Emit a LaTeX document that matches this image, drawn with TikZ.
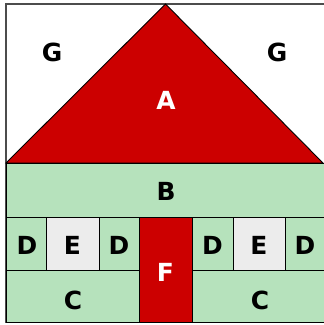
\documentclass[tikz,border=0pt]{standalone}
\usepackage{fontspec}
\setmainfont{DejaVu Sans}
\definecolor{hred}{RGB}{204,0,0}
\definecolor{hgreen}{RGB}{182,226,188}
\definecolor{hgrey}{RGB}{236,236,236}
\tikzset{
  part/.style={draw=black, line width=0.9pt},
  lab/.style={font=\bfseries\fontsize{25}{25}\selectfont, inner sep=0pt, anchor=center},
  wlab/.style={lab, text=white}
}
\begin{document}
\begin{tikzpicture}[x=1bp,y=-1bp]
\useasboundingbox (0,0) rectangle (324,325);
\fill[white] (0,0) rectangle (324,325);
% frame
\draw[black!70, line width=1.2pt] (6,4) rectangle (326,322);
% triangle
\filldraw[part, fill=hred] (6,163) -- (165.5,4) -- (323,163) -- cycle;
% B
\filldraw[part, fill=hgreen] (6,163) rectangle (326,217);
% D E D row
\filldraw[part, fill=hgreen] (6,217) rectangle (46,270);
\filldraw[part, fill=hgrey] (46,217) rectangle (99,270);
\filldraw[part, fill=hgreen] (99,217) rectangle (139,270);
\filldraw[part, fill=hgreen] (192,217) rectangle (233,270);
\filldraw[part, fill=hgrey] (233,217) rectangle (285,270);
\filldraw[part, fill=hgreen] (285,217) rectangle (326,270);
% C
\filldraw[part, fill=hgreen] (6,270) rectangle (139,322);
\filldraw[part, fill=hgreen] (192,270) rectangle (326,322);
% F
\filldraw[part, fill=hred] (139,217) rectangle (192,322);
% labels
\node[lab] (g1) at (52,52) {G};
\node[lab] (g2) at (277,52) {G};
\node[wlab] (a) at (166,100) {A};
\node[lab] (b) at (166,191) {B};
\node[lab] (d1) at (27,245) {D};
\node[lab] (e1) at (72.5,245) {E};
\node[lab] (d2) at (119,245) {D};
\node[lab] (d3) at (212.5,245) {D};
\node[lab] (e2) at (259,245) {E};
\node[lab] (d4) at (305,245) {D};
\node[wlab] (f) at (165.5,272) {F};
\node[lab] (c1) at (73,300) {C};
\node[lab] (c2) at (260,300) {C};
\end{tikzpicture}
\end{document}
